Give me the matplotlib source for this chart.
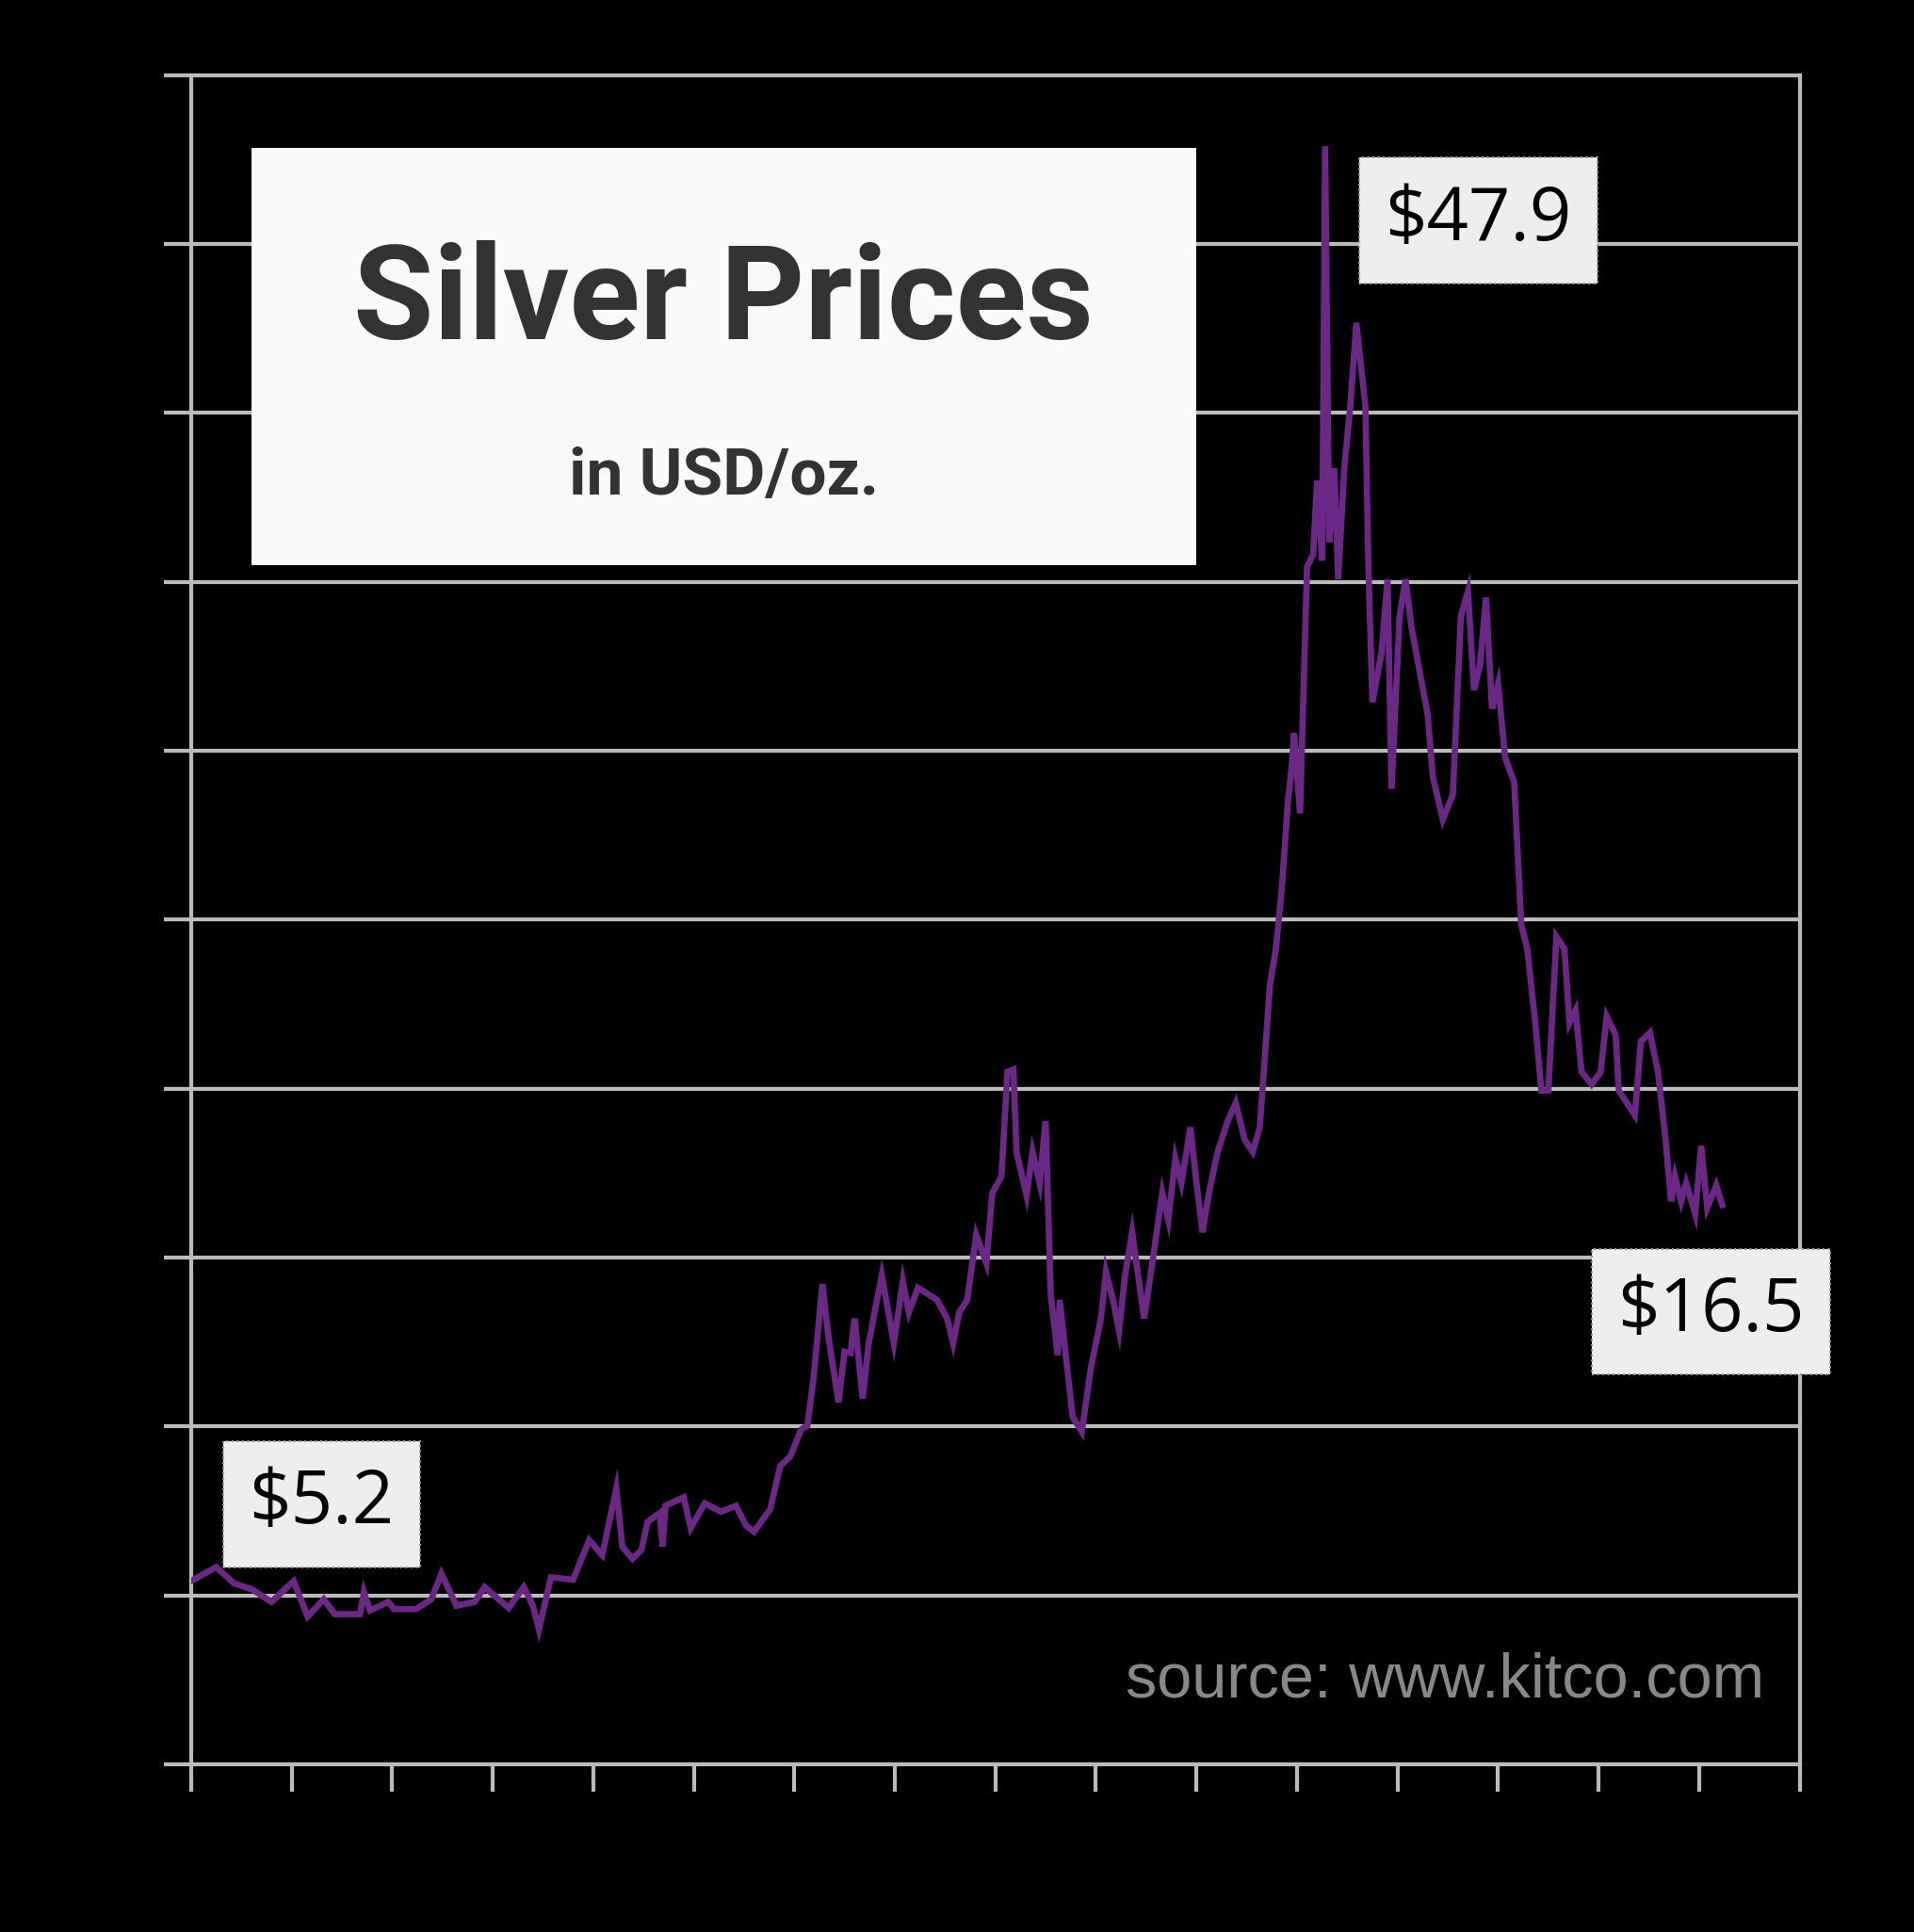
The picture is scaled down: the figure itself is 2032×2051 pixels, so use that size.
import matplotlib.pyplot as plt
from matplotlib.patches import Rectangle

# silver price, USD/oz
years = [2000.0, 2000.25, 2000.43, 2000.61, 2000.8, 2001.02, 2001.16, 2001.32, 2001.43, 2001.68,
         2001.72, 2001.78, 2001.96, 2002.02, 2002.24, 2002.39, 2002.49, 2002.64, 2002.82, 2002.92,
         2003.16, 2003.31, 2003.4, 2003.46, 2003.58, 2003.8, 2003.96, 2004.09, 2004.23, 2004.29,
         2004.39, 2004.48, 2004.54, 2004.66, 2004.69, 2004.72, 2004.9, 2004.97, 2005.11, 2005.27,
         2005.42, 2005.52, 2005.6, 2005.76, 2005.86, 2005.96, 2006.07, 2006.13, 2006.19, 2006.28,
         2006.34, 2006.44, 2006.5, 2006.56, 2006.6, 2006.68, 2006.74, 2006.87, 2006.99, 2007.08,
         2007.14, 2007.23, 2007.42, 2007.52, 2007.58, 2007.64, 2007.72, 2007.81, 2007.91, 2007.97,
         2008.06, 2008.12, 2008.18, 2008.21, 2008.31, 2008.37, 2008.44, 2008.5, 2008.55, 2008.62,
         2008.64, 2008.7, 2008.77, 2008.86, 2008.95, 2009.05, 2009.1, 2009.17, 2009.23, 2009.29,
         2009.36, 2009.48, 2009.57, 2009.66, 2009.72, 2009.79, 2009.85, 2009.94, 2010.0, 2010.06,
         2010.12, 2010.21, 2010.31, 2010.39, 2010.48, 2010.56, 2010.63, 2010.73, 2010.79, 2010.85,
         2010.91, 2010.95, 2010.97, 2011.03, 2011.1, 2011.16, 2011.2, 2011.25, 2011.28, 2011.32,
         2011.37, 2011.41, 2011.47, 2011.53, 2011.59, 2011.68, 2011.71, 2011.75, 2011.84, 2011.9,
         2011.94, 2012.02, 2012.08, 2012.14, 2012.3, 2012.35, 2012.45, 2012.55, 2012.63, 2012.7,
         2012.76, 2012.82, 2012.88, 2012.94, 2013.0, 2013.07, 2013.16, 2013.23, 2013.29, 2013.37,
         2013.43, 2013.5, 2013.58, 2013.66, 2013.71, 2013.77, 2013.83, 2013.93, 2014.02, 2014.08,
         2014.17, 2014.2, 2014.36, 2014.42, 2014.51, 2014.59, 2014.66, 2014.72, 2014.76, 2014.82,
         2014.87, 2014.96, 2015.02, 2015.08, 2015.17, 2015.23]
prices = [5.43, 5.84, 5.36, 5.18, 4.81, 5.43, 4.38, 4.89, 4.45, 4.45,
          5.1, 4.56, 4.81, 4.6, 4.6, 4.89, 5.65, 4.7, 4.81, 5.25,
          4.63, 5.25, 4.7, 4.0, 5.54, 5.47, 6.64, 6.2, 8.17, 6.45,
          6.09, 6.35, 7.18, 7.44, 6.45, 7.66, 7.91, 7.0, 7.73, 7.48,
          7.66, 7.07, 6.89, 7.55, 8.83, 9.12, 9.92, 10.03, 11.38, 14.22,
          12.65, 10.72, 12.22, 12.18, 13.2, 10.83, 12.47, 14.48, 12.47, 14.3,
          13.38, 14.11, 13.75, 13.2, 12.47, 13.38, 13.75, 15.68, 14.84, 16.92,
          17.4, 20.5, 20.57, 18.13, 16.85, 18.13, 17.21, 19.04, 13.93, 12.11,
          13.75, 12.11, 10.28, 9.85, 11.74, 13.2, 14.59, 13.75, 12.84, 14.48,
          15.75, 13.2, 15.03, 16.92, 16.12, 17.94, 17.21, 18.86, 17.21, 15.75,
          16.85, 18.13, 19.04, 19.58, 18.49, 18.13, 18.86, 23.05, 24.14, 25.97,
          28.52, 29.61, 30.52, 28.15, 35.45, 35.81, 38.0, 35.63, 47.9, 36.18,
          38.37, 35.08, 38.37, 40.2, 42.67, 40.2, 35.45, 31.44, 32.9, 35.08,
          28.88, 33.99, 35.08, 33.63, 31.07, 29.25, 27.97, 28.7, 33.99, 34.72,
          31.8, 32.53, 34.54, 31.25, 31.98, 29.8, 29.07, 24.87, 24.14, 21.95,
          19.95, 19.95, 24.5, 24.14, 21.95, 22.32, 20.5, 20.13, 20.5, 22.14,
          21.59, 19.95, 19.22, 21.4, 21.66, 20.5, 18.67, 16.67, 17.4, 16.67,
          17.21, 16.3, 18.31, 16.48, 17.14, 16.56]

callouts = [("$5.2", 2001.3, 7.7), ("$47.9", 2012.8, 45.7), ("$16.5", 2015.12, 13.4)]

grid_c = "#bbbbbb"
fig = plt.figure(figsize=(20.32, 20.51), dpi=100, facecolor="black")
ax = fig.add_axes([0.0998, 0.0867, 0.8405, 0.8744], facecolor="black")
ax.set_xlim(2000, 2016)
ax.set_ylim(0, 50)
ax.set_xticks(range(2000, 2017))
ax.set_yticks(range(0, 51, 5))
ax.tick_params(colors=grid_c, width=3, length=21, labelcolor="black")
ax.yaxis.grid(True, color=grid_c, linewidth=3)
for s in ax.spines.values():
    s.set_color(grid_c)
    s.set_linewidth(3)
ax.set_axisbelow(True)

ax.plot(years, prices, color="#6b2686", linewidth=4.8, solid_joinstyle="miter", zorder=3)

ax.add_patch(Rectangle((0.0375, 0.71), 0.5875, 0.247, transform=ax.transAxes,
                       facecolor="#f9f9f9", edgecolor="none", zorder=4))
ax.text(0.331, 0.865, "Silver Prices", transform=ax.transAxes, ha="center", va="center",
        fontsize=100, fontweight="bold", family="Roboto", color="#333333", zorder=5)
ax.text(0.331, 0.762, "in USD/oz.", transform=ax.transAxes, ha="center", va="center",
        fontsize=50, fontweight="bold", family="Roboto", color="#333333", zorder=5)

for label, x, y in callouts:
    ax.text(x, y, label, ha="center", va="center", fontsize=56, family="Open Sans",
            color="black", zorder=5, clip_on=False,
            bbox=dict(boxstyle="square,pad=0.35", facecolor="#eeeeee",
                      edgecolor="#999999", linestyle=":", linewidth=1.5))

ax.text(0.978, 0.04, "source: www.kitco.com", transform=ax.transAxes, ha="right",
        va="baseline", fontsize=48, family="Liberation Sans", color="#888888", zorder=5)

fig.savefig("out.png", dpi=100, facecolor="black")
